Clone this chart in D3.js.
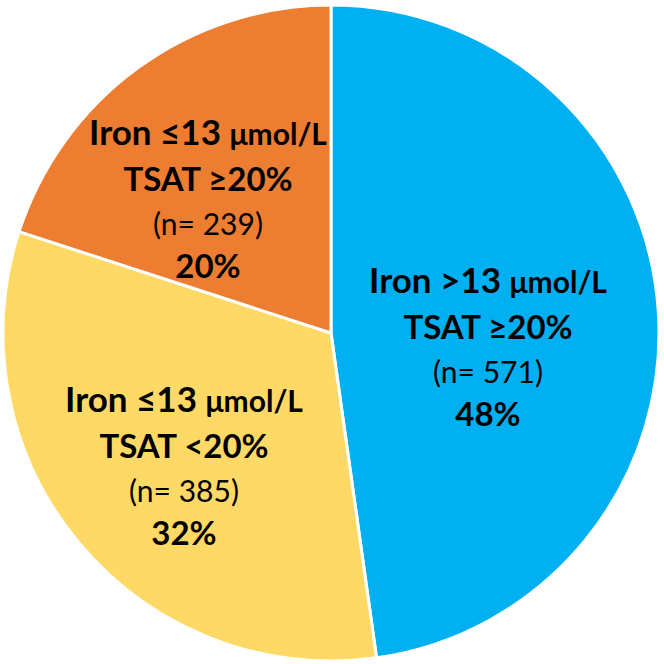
<!DOCTYPE html>
<html><head><meta charset="utf-8">
<script src="https://cdn.jsdelivr.net/npm/d3@7"></script>
<style>html,body{margin:0;padding:0;background:#fff;}</style>
</head><body>
<svg id="chart" width="664" height="664"></svg>
<script>
const groups = ["Iron >13", "Iron ≤13 low TSAT", "Iron ≤13 high TSAT"];
const ironLabels = ["Iron >13 ", "Iron ≤13 ", "Iron ≤13 "];
const tsatLabels = ["TSAT ≥20%", "TSAT <20%", "TSAT ≥20%"];
const counts = [571, 385, 239];
const percents = ["48%", "32%", "20%"];
const colors = ["#00B0F0", "#FFD966", "#ED7D31"];
const labelX = [488, 184, 208];
const labelBase = [293, 412, 145];

const svg = d3.select("#chart");
const cx = 331, cy = 333, r = 328;
const g = svg.append("g").attr("transform", `translate(${cx},${cy})`);
const pie = d3.pie().sort(null).value(d => d);
const arc = d3.arc().innerRadius(0).outerRadius(r);
const arcs = pie(counts);
g.selectAll("path").data(arcs).join("path")
  .attr("d", arc).attr("fill", (d, i) => colors[i])
  .attr("stroke", "#fff").attr("stroke-width", 3);

const font = "Lato, 'Open Sans', sans-serif";
arcs.forEach((d, i) => {
  const x = labelX[i], y0 = labelBase[i];
  const t1 = svg.append("text").attr("x", x).attr("y", y0).attr("text-anchor", "middle")
    .attr("font-family", font).attr("font-weight", 700).attr("font-size", 35).attr("fill", "#000");
  t1.append("tspan").text(ironLabels[i]);
  t1.append("tspan").attr("font-size", 30).text("μmol/L");
  svg.append("text").attr("x", x).attr("y", y0 + 46).attr("text-anchor", "middle")
    .attr("font-family", font).attr("font-weight", 700).attr("font-size", 33).attr("fill", "#000")
    .text(tsatLabels[i]);
  svg.append("text").attr("x", x).attr("y", y0 + 90).attr("text-anchor", "middle")
    .attr("font-family", font).attr("font-weight", 400).attr("font-size", 30).attr("fill", "#000")
    .text(`(n= ${counts[i]})`);
  svg.append("text").attr("x", x).attr("y", y0 + 133).attr("text-anchor", "middle")
    .attr("font-family", font).attr("font-weight", 700).attr("font-size", 33).attr("fill", "#000")
    .text(percents[i]);
});
</script>
</body></html>
